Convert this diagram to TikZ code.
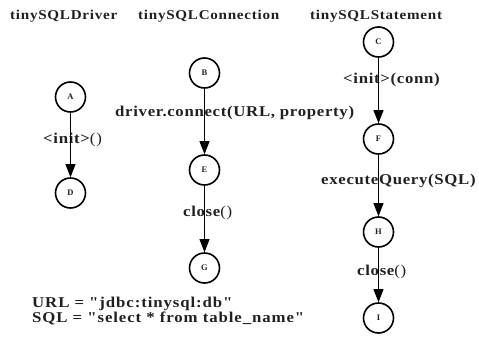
\documentclass[tikz,border=0pt]{standalone}
\usepackage{fontspec}
\setmainfont{Liberation Serif}
\newfontfamily\hdfont{Liberation Serif}[LetterSpace=5.4,FakeStretch=1.12]
\newfontfamily\lbfont{Liberation Serif}[LetterSpace=4.5,FakeStretch=1.12]
\newfontfamily\ntfont{Liberation Serif}[LetterSpace=6,FakeStretch=1.12]
\usetikzlibrary{arrows.meta}
\definecolor{txt}{HTML}{231F20}
\tikzset{
  state/.style={circle, draw=black, line width=1.6pt, fill=white, minimum size=30pt, inner sep=0pt,
    font=\fontsize{8.5}{9}\selectfont\bfseries, text=txt},
  head/.style={anchor=base west, inner sep=0pt, text=txt, font=\hdfont\fontsize{13.5}{14}\selectfont\bfseries},
  lbl/.style={anchor=base west, inner sep=0pt, text=txt, font=\lbfont\fontsize{15}{15}\selectfont\bfseries},
  note/.style={anchor=base west, inner sep=0pt, text=txt, font=\ntfont\fontsize{15}{15}\selectfont\bfseries},
  flow/.style={draw=black, line width=0.8pt, -{Triangle[length=13pt,width=10pt]}}
}
\begin{document}
\begin{tikzpicture}[x=1pt,y=-1pt]
\useasboundingbox (0,0) rectangle (479,337);
% headers
\node[head] (h1) at (10,20) {tinySQLDriver};
\node[head] (h2) at (138,20) {tinySQLConnection};
\node[head] (h3) at (310,20) {tinySQLStatement};
% edge labels
\node[lbl] (l1) at (43,143) {<init>{\mdseries ()}};
\node[lbl] (l2) at (115,116) {driver.connect(URL, property)};
\node[lbl] (l3) at (183,216) {close{\mdseries ()}};
\node[lbl] (l4) at (343,83) {<init>(conn)};
\node[lbl] (l5) at (321,184) {executeQuery(SQL)};
\node[lbl] (l6) at (357,275) {close{\mdseries ()}};
% notes
\node[note] (n1) at (32,307) {URL = "jdbc:tinysql:db"};
\node[note] (n2) at (32,322) {SQL = "select * from table\_name"};
% states
\node[state] (A) at (70.5,97) {A};
\node[state] (D) at (70.5,193) {D};
\node[state] (B) at (204.5,73) {B};
\node[state] (E) at (204.5,170) {E};
\node[state] (G) at (204.5,268) {G};
\node[state] (C) at (378.5,42) {C};
\node[state] (F) at (378.5,139) {F};
\node[state] (H) at (378.5,232) {H};
\node[state] (I) at (378.5,318) {I};
% edges
\draw[flow] (A) -- (D);
\draw[flow] (B) -- (E);
\draw[flow] (E) -- (G);
\draw[flow] (C) -- (F);
\draw[flow] (F) -- (H);
\draw[flow] (H) -- (I);
\end{tikzpicture}
\end{document}
